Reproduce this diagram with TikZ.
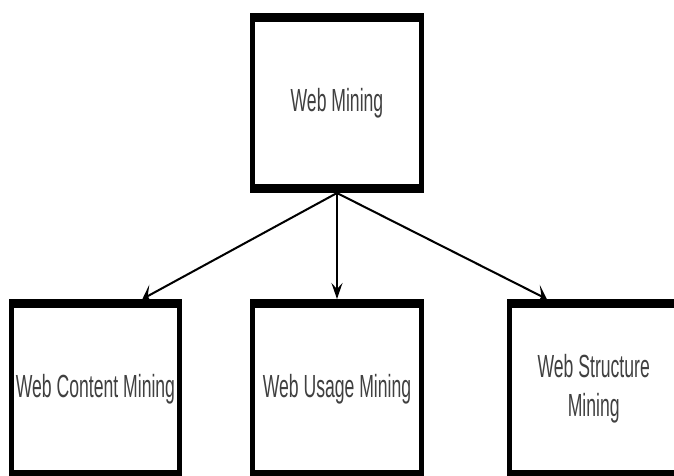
\documentclass[tikz,border=0pt]{standalone}
\usepackage{fontspec}
\setmainfont{Liberation Sans}
\usetikzlibrary{arrows.meta,calc}

\tikzset{
  minebox/.style={draw=black,line width=9pt,fill=white,minimum width=307pt,minimum height=171pt,inner sep=0pt,align=center,text=black!75,font=\fontsize{32}{39}\selectfont},
  minearrow/.style={-{Stealth[length=16pt,width=20pt,inset=6pt]},line width=2.2pt}
}

\begin{document}
\begin{tikzpicture}[x=1pt,y=-1pt]
\useasboundingbox (0,0) rectangle (674,475);
\clip (0,0) rectangle (674,475);
\begin{scope}[transform canvas={xscale=0.55}]
\node[minebox] (wm) at (612.7,103) {Web Mining};
\node[minebox] (wcm) at (173.6,389) {Web Content Mining};
\node[minebox] (wum) at (612.7,389) {Web Usage Mining};
\node[minebox] (wsm) at (1079.5,389) {Web Structure\\Mining};

\draw[minearrow] (wm.south) -- ($(wcm.north west)!0.77!(wcm.north east)$);
\draw[minearrow] (wm.south) -- (wum.north);
\draw[minearrow] (wm.south) -- ($(wsm.north west)!0.23!(wsm.north east)$);
\end{scope}
\end{tikzpicture}
\end{document}
